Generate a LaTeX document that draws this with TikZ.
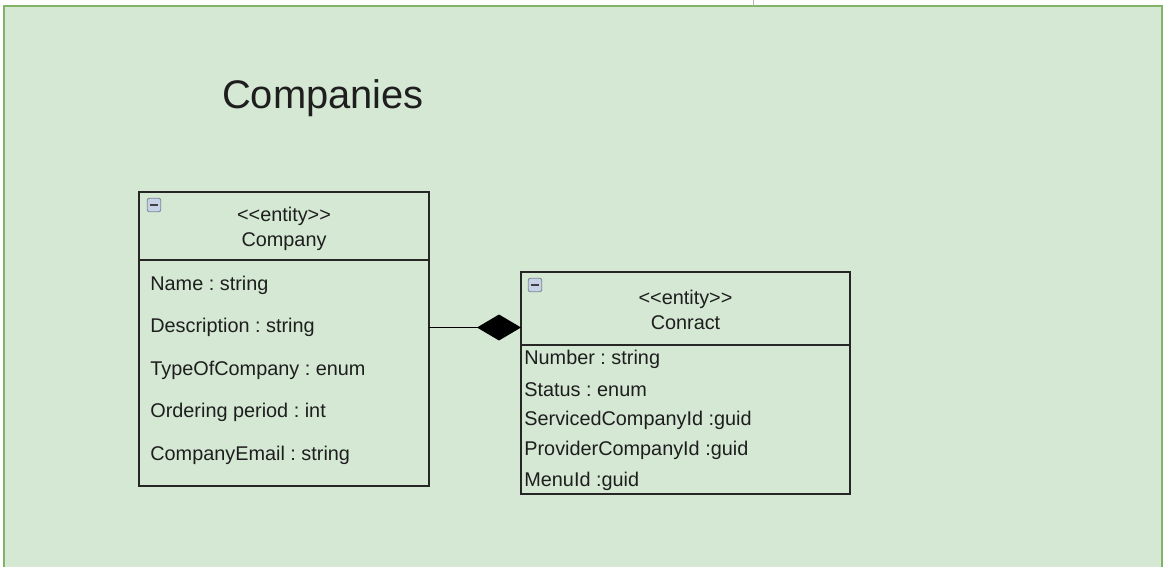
\documentclass[tikz,border=0pt]{standalone}
\usepackage{fontspec}
\setmainfont{Liberation Sans}
\usetikzlibrary{calc,arrows.meta,positioning}
\frenchspacing

\definecolor{frameFill}{HTML}{D5E8D4}
\definecolor{frameLine}{HTML}{82B366}
\definecolor{iconFill}{HTML}{C8D2E6}
\definecolor{iconLine}{HTML}{7E889C}
\definecolor{ink}{HTML}{1E1E1E}

\begin{document}
\begin{tikzpicture}[
    x=0.02cm, y=-0.02cm,
    frame/.style={draw=frameLine, fill=frameFill, line width=0.9pt},
    box/.style={draw=black!85, line width=0.7pt, inner sep=0pt, outer sep=0pt},
    label text/.style={inner sep=0pt, text=ink, font=\fontsize{11.3}{14.2}\selectfont},
    attr/.style={label text, anchor=west},
    fold/.style={draw=iconLine, fill=iconFill, rounded corners=1.2pt,
      minimum size=0.27cm, inner sep=0pt, line width=0.5pt},
    composition/.style={line width=0.7pt, -{Diamond[length=0.88cm, width=0.52cm]}}
  ]

  \useasboundingbox (0,0) rectangle (1165,567);
  \clip (0,0) rectangle (1165,567);

  % page frame
  \draw[frame] (4,6) rectangle (1162,600);
  \draw[black!30, line width=0.4pt] (753,0) -- (753,6);

  \node[font=\fontsize{22.7}{27}\selectfont, text=ink] (title) at (323,98) {Companies};

  % Company
  \node[box, minimum width=290*0.02cm, minimum height=68*0.02cm] (compHead) at (284,226) {};
  \node[label text, align=center] (compName) at ($(compHead.center)+(0,3)$)
    {<{}<entity>{}>\\Company};
  \node[box, minimum width=290*0.02cm, minimum height=226*0.02cm,
    below=0pt of compHead] (compBody) {};
  \node[fold] (compFold) at ($(compHead.north west)+(15,13)$) {};
  \draw[line width=1.3pt, black!75] ([xshift=2pt]compFold.west) -- ([xshift=-2pt]compFold.east);

  \foreach \attr [count=\i] in {Name : string, Description : string,
      TypeOfCompany : enum, Ordering period : int, CompanyEmail : string} {
    \node[attr] (compAttr\i) at ($(compBody.north west)+(11,{25+(\i-1)*42.5})$) {\attr};
  }

  % Contract
  \node[box, minimum width=329*0.02cm, minimum height=73*0.02cm] (contrHead) at (685.5,308.5) {};
  \node[label text, align=center] (contrName) at ($(contrHead.center)+(0,1.5)$)
    {<{}<entity>{}>\\Conract};
  \node[box, minimum width=329*0.02cm, minimum height=149*0.02cm,
    below=0pt of contrHead] (contrBody) {};
  \node[fold] (contrFold) at ($(contrHead.north west)+(14,13)$) {};
  \draw[line width=1.3pt, black!75] ([xshift=2pt]contrFold.west) -- ([xshift=-2pt]contrFold.east);

  \foreach \attr [count=\i] in {Number : string, Status : enum,
      ServicedCompanyId :guid, ProviderCompanyId :guid, MenuId :guid} {
    \node[attr] (contrAttr\i) at ($(contrBody.north west)+(3,{14+(\i-1)*30.5})$) {\attr};
  }

  % composition
  \coordinate (compOut) at (compBody.east |- compAttr2);
  \coordinate (contrIn) at ($(contrHead.west)+(0,19)$);
  \draw[composition] (compOut) -- (contrIn);
\end{tikzpicture}
\end{document}
